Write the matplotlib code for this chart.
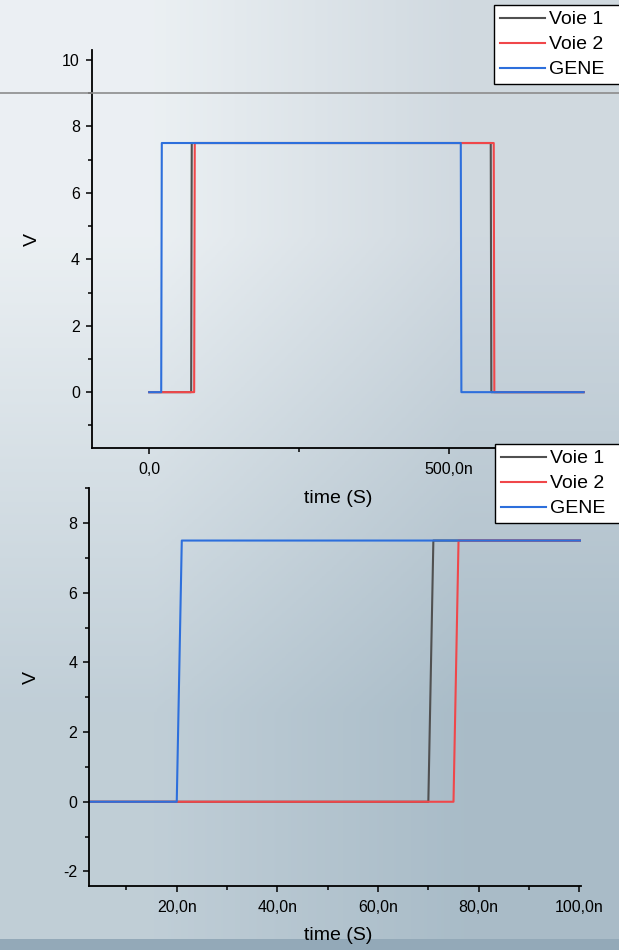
"""Pulse timing plot: two channels against the generator signal."""

import matplotlib

matplotlib.use("Agg")
import matplotlib.pyplot as plt
import numpy as np
from matplotlib.lines import Line2D
from matplotlib.patches import Rectangle
from matplotlib.ticker import FuncFormatter, MultipleLocator

plt.rcParams["font.family"] = ["Liberation Sans", "DejaVu Sans"]
plt.rcParams["axes.unicode_minus"] = False

# time in ns, level in V
t_voie1 = [0, 70, 71, 570, 571, 725]
v_voie1 = [0, 0, 7.5, 7.5, 0, 0]
t_voie2 = [0, 75, 76, 575, 576, 725]
v_voie2 = [0, 0, 7.5, 7.5, 0, 0]
t_gene = [0, 20, 21, 520, 521, 725]
v_gene = [0, 0, 7.5, 7.5, 0, 0]

labels = ["Voie 1", "Voie 2", "GENE"]
colors = ["#505050", "#f0474a", "#2d6fdc"]


def fmt_ns(v, pos):
    """Tick label with a decimal comma and an 'n' suffix."""
    if abs(v) < 1e-9:
        return "0,0"
    return f"{v:.1f}n".replace(".", ",")


def style_axes(ax, xmajor, xminor, ymajor, yminor):
    ax.set_facecolor("none")
    for side in ("top", "right"):
        ax.spines[side].set_visible(False)
    for side in ("left", "bottom"):
        ax.spines[side].set_linewidth(1.3)
    ax.xaxis.set_major_locator(MultipleLocator(xmajor))
    ax.xaxis.set_minor_locator(MultipleLocator(xminor))
    ax.yaxis.set_major_locator(MultipleLocator(ymajor))
    ax.yaxis.set_minor_locator(MultipleLocator(yminor))
    ax.xaxis.set_major_formatter(FuncFormatter(fmt_ns))
    ax.tick_params(which="major", direction="out", length=4.5, width=1.1,
                   labelsize=11.5)
    ax.tick_params(which="minor", direction="out", length=2.6, width=1.1)
    ax.tick_params(axis="x", which="major", pad=5.5)
    ax.tick_params(axis="y", which="major", pad=4)
    ax.set_xlabel("time (S)", fontsize=14)
    ax.set_ylabel("V", fontsize=14)


def plot_traces(ax):
    series = [(t_voie1, v_voie1), (t_voie2, v_voie2), (t_gene, v_gene)]
    for (t, v), lab, col in zip(series, labels, colors):
        ax.plot(t, v, color=col, lw=1.5, label=lab)


fig = plt.figure(figsize=(6.19, 9.5), dpi=100)

# soft diagonal background
bg = fig.add_axes([0, 0, 1, 1], zorder=-10)
corners = np.array([[[0.922, 0.941, 0.953], [0.816, 0.851, 0.878]],
                    [[0.753, 0.808, 0.843], [0.663, 0.737, 0.784]]])
bg.imshow(corners, extent=(0, 1, 0, 1), aspect="auto",
          interpolation="bilinear")
bg.set_axis_off()
fig.patches.append(Rectangle((0, 0), 1, 11 / 950, transform=fig.transFigure,
                             facecolor="#93a9b8", edgecolor="none", zorder=-5))

ax1 = fig.add_axes([91.7 / 619, 501.7 / 950, 500.9 / 619, 398.3 / 950])
plot_traces(ax1)
ax1.set_xlim(-96, 740)
ax1.set_ylim(-1.69, 10.3)
style_axes(ax1, 500, 250, 2, 1)
ax1.xaxis.set_label_coords(0.492, -0.105)
ax1.yaxis.set_label_coords(-0.101, 0.523)

ax2 = fig.add_axes([89 / 619, 64.3 / 950, 492 / 619, 397.4 / 950])
plot_traces(ax2)
ax2.set_xlim(2.56, 100.34)
ax2.set_ylim(-2.41, 9.0)
style_axes(ax2, 20, 10, 2, 1)
ax2.xaxis.set_label_coords(0.506, -0.104)
ax2.yaxis.set_label_coords(-0.10, 0.523)

for ax, (x0, top) in ((ax1, (494 / 619, 1 - 5 / 950)),
                      (ax2, (495 / 619, 1 - 444 / 950))):
    handles, labs = ax.get_legend_handles_labels()
    leg = fig.legend(handles, labs, loc="upper left",
                     bbox_to_anchor=(x0, top - 0.3, 1.2 - x0, 0.3),
                     mode="expand", fontsize=14, frameon=True, fancybox=False,
                     borderpad=0.3, borderaxespad=0, labelspacing=0.38,
                     handlelength=2.3, handletextpad=0.25)
    leg.get_frame().set_edgecolor("black")
    leg.get_frame().set_linewidth(1.0)
    leg.get_frame().set_facecolor("white")
    leg.get_frame().set_alpha(1)

fig.lines.append(Line2D([0, 1], [1 - 93 / 950] * 2, transform=fig.transFigure,
                        color="#8c8c8c", lw=1.2, zorder=20))

fig.savefig("out.png", dpi=100)
